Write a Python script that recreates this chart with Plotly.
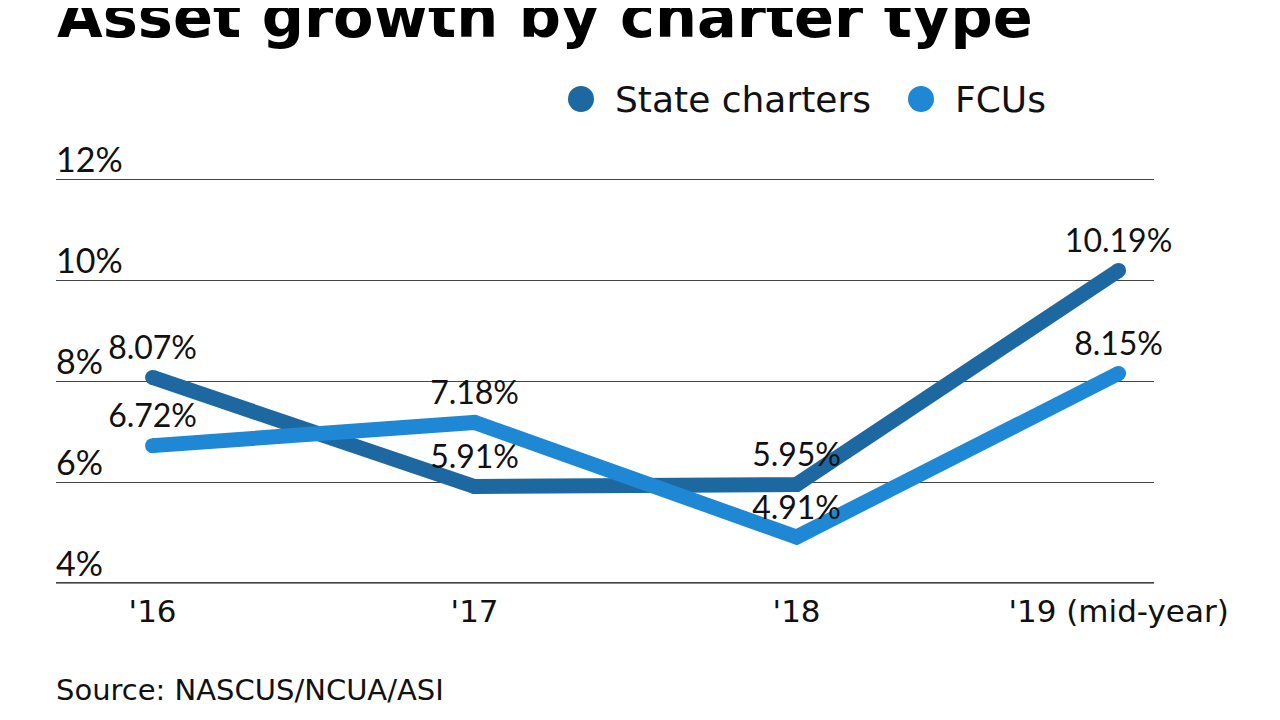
import plotly.graph_objects as go

years = ["'16", "'17", "'18", "'19 (mid-year)"]
state_charters = [8.07, 5.91, 5.95, 10.19]
fcus = [6.72, 7.18, 4.91, 8.15]
y_ticks = [4, 6, 8, 10, 12]
y_tick_labels = ["4%", "6%", "8%", "10%", "12%"]
series_names = ["State charters", "FCUs"]

DARK = "#1e68a2"
LIGHT = "#1f88d4"
NUM_FONT = "Lato"
WORD_FONT = "DejaVu Sans"

# page offset (browser body margin) and plot box in page pixels
OFF = 8
PX_L, PX_R, PX_T, PX_B = 56, 1154, 178, 584
W = PX_R - PX_L
H = PX_B - PX_T


def px(x):
    return (x - PX_L) / W


def py(y):
    return (PX_B - y) / H


x_idx = list(range(len(years)))

fig = go.Figure()
for name, vals, color in [(series_names[0], state_charters, DARK), (series_names[1], fcus, LIGHT)]:
    fig.add_trace(go.Scatter(
        x=x_idx, y=vals, mode="lines+markers+text", name=name,
        line=dict(color=color, width=15),
        marker=dict(color=color, size=15),
        text=[f"{v:.2f}%" for v in vals], textposition="top center",
        textfont=dict(family=NUM_FONT, size=32, color="#111111"),
        cliponaxis=False, showlegend=False, hoverinfo="skip",
    ))

annotations = [
    dict(text="<b>Asset growth by charter type</b>", xref="paper", yref="paper",
         x=px(55), y=py(16.5), xanchor="left", yanchor="middle", showarrow=False,
         font=dict(family=WORD_FONT, size=59, color="#000000")),
    dict(text="Source: NASCUS/NCUA/ASI", xref="paper", yref="paper",
         x=px(54), y=py(690), xanchor="left", yanchor="middle", showarrow=False,
         font=dict(family=WORD_FONT, size=29, color="#111111")),
]
shapes = []
legend_pos = [(581, 615), (921, 955)]
for (dot_x, txt_x), name, color in zip(legend_pos, series_names, [DARK, LIGHT]):
    annotations.append(dict(text=name, xref="paper", yref="paper", x=px(txt_x - 2), y=py(99),
                            xanchor="left", yanchor="middle", showarrow=False,
                            font=dict(family=WORD_FONT, size=36, color="#111111")))
    shapes.append(dict(type="circle", xref="paper", yref="paper", xsizemode="pixel",
                       ysizemode="pixel", xanchor=px(dot_x), yanchor=py(99),
                       x0=-13, x1=13, y0=-13, y1=13, fillcolor=color,
                       line=dict(width=0)))
shapes.append(dict(type="line", xref="paper", yref="y", x0=0, x1=1, y0=4, y1=4,
                   line=dict(color="#8a8a8a", width=2), layer="below"))

fig.update_layout(
    width=1280, height=720,
    paper_bgcolor="white", plot_bgcolor="white",
    margin=dict(l=PX_L - OFF, r=1280 - PX_R + OFF, t=PX_T - OFF, b=720 - PX_B + OFF, pad=0),
    font=dict(family=WORD_FONT, color="#111111"),
    showlegend=False,
    xaxis=dict(range=[-0.3, 3.11], tickmode="array", tickvals=x_idx, ticktext=years,
               showgrid=False, zeroline=False, showline=False, ticks="",
               ticklabelstandoff=6,
               tickfont=dict(family=WORD_FONT, size=31, color="#111111"), fixedrange=True),
    yaxis=dict(range=[3.98, 12.02], tickmode="array", tickvals=y_ticks, ticktext=y_tick_labels,
               showgrid=True, gridcolor="#444444", gridwidth=1, zeroline=False,
               ticklabelposition="inside top", ticklabeloverflow="allow",
               ticklabelshift=5, ticklabelstandoff=-3,
               tickfont=dict(family=NUM_FONT, size=34, color="#111111"), fixedrange=True),
    annotations=annotations,
    shapes=shapes,
)

fig.write_html("out.html")
